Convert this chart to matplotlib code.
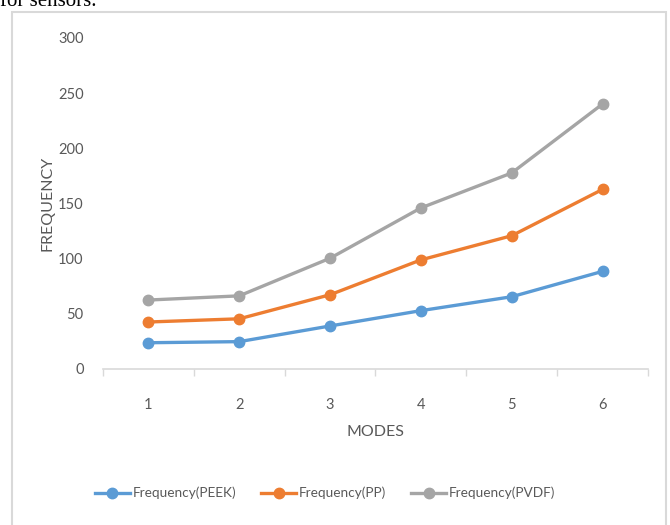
import matplotlib.pyplot as plt
from matplotlib.patches import Rectangle

# data
modes = [1, 2, 3, 4, 5, 6]
freq_peek = [23.8, 24.8, 39, 52.9, 65.5, 88.5]
freq_pp = [42.6, 45.5, 67.3, 98.9, 120.8, 162.8]
freq_pvdf = [62.5, 66.3, 100.4, 146, 177.7, 240.2]
series_names = ["Frequency(PEEK)", "Frequency(PP)", "Frequency(PVDF)"]
colors = ["#5B9BD5", "#ED7D31", "#A5A5A5"]

plt.rcParams['font.family'] = ['Lato', 'DejaVu Sans']
txt = "#595959"

fig = plt.figure(figsize=(6.7, 5.25), dpi=100)
ax = fig.add_axes([103 / 670, 1 - 369 / 525, 545 / 670, 331 / 525])

for vals, name, c in zip([freq_peek, freq_pp, freq_pvdf], series_names, colors):
    ax.plot(modes, vals, '-o', color=c, lw=2.4, ms=7.5, label=name)

ax.set_xlim(0.5, 6.5)
ax.set_ylim(0, 300)
ax.set_yticks(range(0, 301, 50))
ax.set_xticks(modes)
ax.set_xticks([m - 0.5 for m in modes] + [6.5], minor=True)

for s in ['top', 'right', 'left']:
    ax.spines[s].set_visible(False)
ax.spines['bottom'].set_color("#d9d9d9")
ax.spines['bottom'].set_linewidth(1.2)

ax.tick_params(axis='y', length=0, pad=14, labelsize=10.5, labelcolor=txt)
ax.tick_params(axis='x', which='major', length=0, pad=21, labelsize=10.5, labelcolor=txt)
ax.tick_params(axis='x', which='minor', length=5, width=1, color="#d9d9d9")

ax.set_xlabel("MODES", fontsize=11.5, color=txt, labelpad=9)
fig.text(47 / 670, 1 - 203 / 525, "FREQUENCY",
         rotation=90, ha='center', va='center', fontsize=11.5, color=txt)

fig.legend(loc='center', bbox_to_anchor=(325 / 670, 1 - 493 / 525), ncol=3,
           frameon=False, fontsize=9.8, handlelength=2.6, columnspacing=1.8,
           handletextpad=0.2, labelcolor=txt)

# chart frame and caption fragment above it
fig.patches.append(Rectangle((12 / 670, -0.01), 654 / 670, 1 - 12 / 525 + 0.01,
                             transform=fig.transFigure, fill=False,
                             edgecolor="#d9d9d9", lw=1.5))
fig.text(0.0, 1 - 6 / 525, "for sensors.", fontsize=15, family='Liberation Serif',
         ha='left', va='baseline')

fig.savefig("out.png", dpi=100)
